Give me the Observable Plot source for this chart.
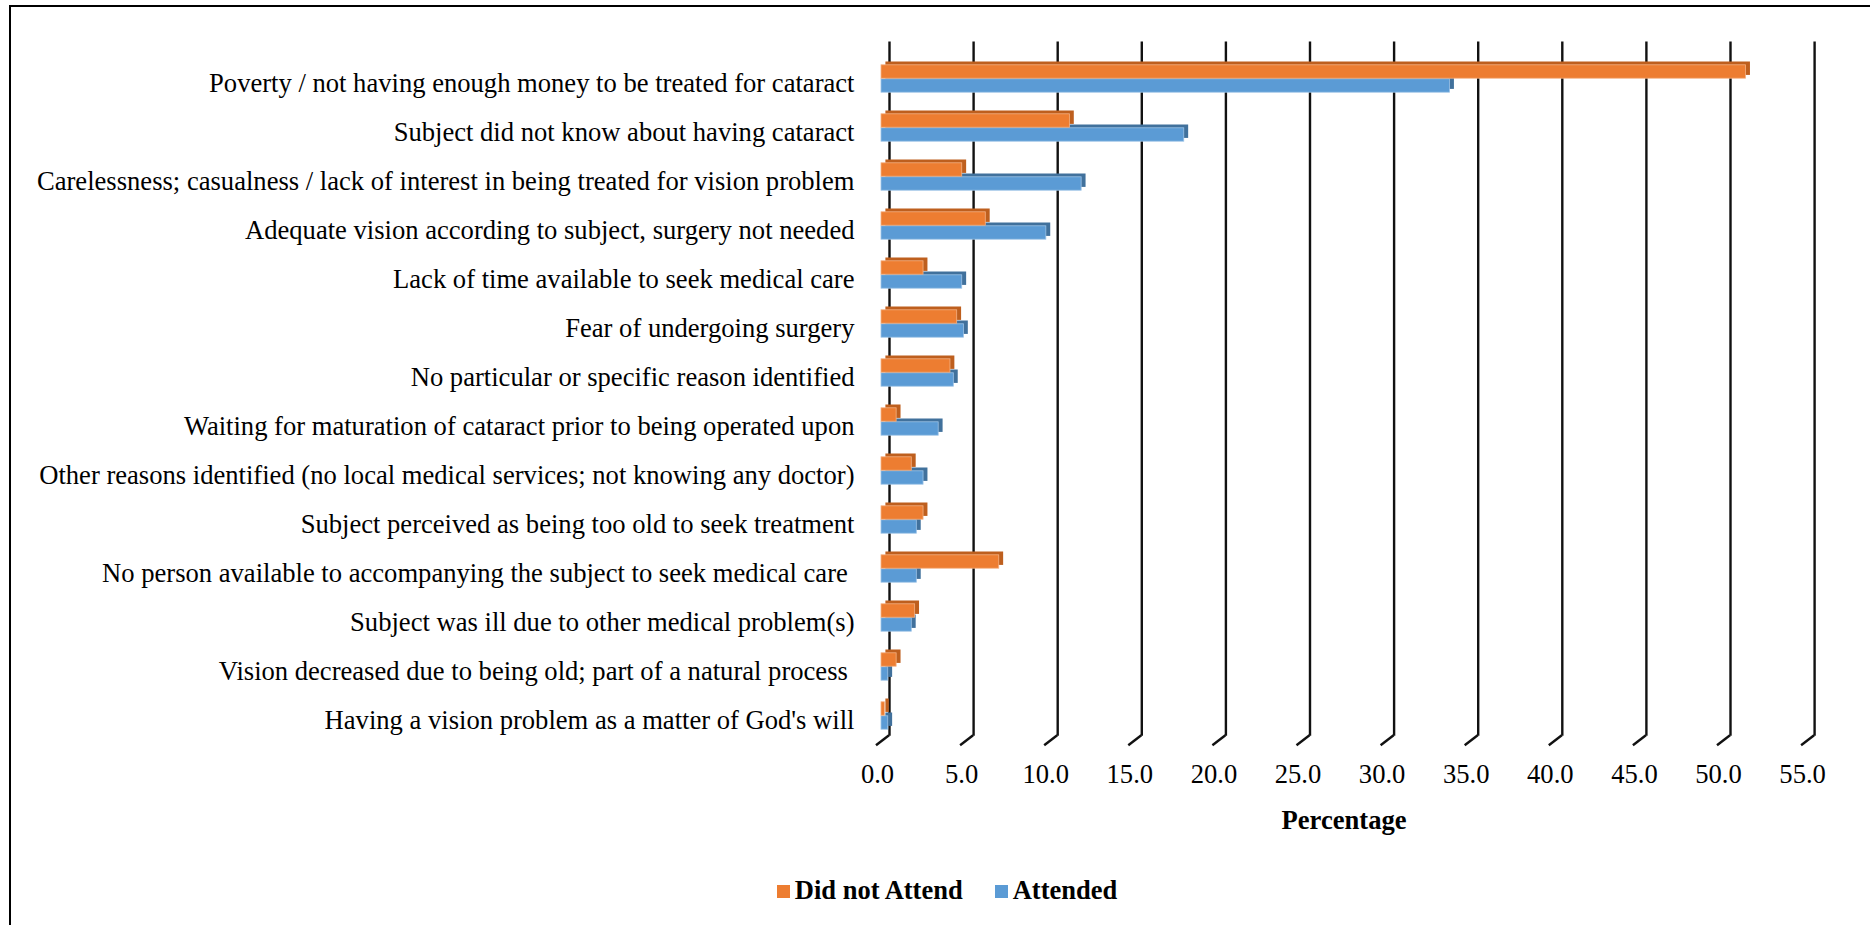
<!DOCTYPE html>
<html>
<head>
<meta charset="utf-8">
<script src="https://cdn.jsdelivr.net/npm/d3@7"></script>
<script src="https://cdn.jsdelivr.net/npm/@observablehq/plot@0.6"></script>
<style>
  html, body { margin: 0; padding: 0; background: #fff; overflow: hidden; }
  #frame { position: absolute; left: 9px; top: 4.5px; width: 3000px; height: 3000px;
           border-top: 2.5px solid #000; border-left: 2.5px solid #000; pointer-events: none; }
  #chart { position: absolute; left: 0; top: 0; }
  #legend { position: absolute; left: 0; top: 874px; width: 1870px; display: flex; justify-content: center;
            font-family: "Liberation Serif", "Times New Roman", serif; font-weight: bold; font-size: 26.5px;
            line-height: 32px; padding-left: 24px; box-sizing: border-box; }
  .item { display: flex; align-items: center; margin: 0 16px; }
  .sw { width: 13px; height: 13px; margin-right: 5px; margin-top: 2px; }
</style>
</head>
<body>
<div id="chart"></div>
<div id="legend"></div>
<div id="frame"></div>
<script>
const categories = [
  "Poverty / not having enough money to be treated for cataract",
  "Subject did not know about having cataract",
  "Carelessness; casualness / lack of interest in being treated for vision problem",
  "Adequate vision according to subject, surgery not needed",
  "Lack of time available to seek medical care",
  "Fear of undergoing surgery",
  "No particular or specific reason identified",
  "Waiting for maturation of cataract prior to being operated upon",
  "Other reasons identified (no local medical services; not knowing any doctor)",
  "Subject perceived as being too old to seek treatment",
  "No person available to accompanying the subject to seek medical care\u00a0",
  "Subject was ill due to other medical problem(s)",
  "Vision decreased due to being old; part of a natural process\u00a0",
  "Having a vision problem as a matter of God's will"
];
const didNotAttend = [51.4, 11.2, 4.8, 6.2, 2.5, 4.5, 4.1, 0.9, 1.8, 2.5, 7.0, 2.0, 0.9, 0.2];
const attended     = [33.8, 18.0, 11.9, 9.8, 4.8, 4.9, 4.3, 3.4, 2.5, 2.1, 2.1, 1.8, 0.4, 0.4];
const xTicks = [0, 5, 10, 15, 20, 25, 30, 35, 40, 45, 50, 55];
const xLabel = ["Percentage"];
const seriesNames = ["Did not Attend", "Attended"];
const seriesColors = ["#ED7D31", "#5B9BD5"];
const seriesDark = ["#BE5F1E", "#41719C"];
const seriesEdge = ["#F4B183", "#9DC3E6"];

const table = categories.map((c, i) => ({cat: c, dna: didNotAttend[i], att: attended[i]}));

const half = 49.59 / 2;
const barH = 14;
const topInset = {insetTop: half - barH, insetBottom: half};
const botInset = {insetTop: half, insetBottom: half - barH};

function floorTicks(index, scales, values, dims) {
  const g = d3.create("svg:g").attr("stroke", "#111").attr("stroke-width", 2.4).attr("fill", "none");
  const yb = dims.height - dims.marginBottom;
  for (const v of xTicks) {
    const x = scales.x(v);
    g.append("line").attr("x1", x + 8).attr("y1", yb - 8.5).attr("x2", x - 5).attr("y2", yb + 1.5);
  }
  return g.node();
}

const chart = Plot.plot({
  width: 1870,
  height: 860,
  marginLeft: 881,
  marginRight: 63.9,
  marginTop: 49.5,
  marginBottom: 116.2,
  style: {fontFamily: "'Liberation Serif', 'Times New Roman', serif", fontSize: "26.6px", color: "#000", background: "transparent", overflow: "visible"},
  x: {domain: [0, 55]},
  y: {domain: categories, padding: 0},
  marks: [
    Plot.ruleX(xTicks, {dx: 8, dy: -8, stroke: "#111", strokeWidth: 2.4}),
    floorTicks,
    // Attended (lower) bar: depth faces then front
    Plot.barX(table, {x: "att", y: "cat", fill: seriesDark[1], dx: 4.4, dy: -3.3, ...botInset}),
    Plot.barX(table, {x: "att", y: "cat", fill: seriesColors[1], stroke: seriesEdge[1], strokeWidth: 0.8, ...botInset}),
    // Did not attend (upper) bar
    Plot.barX(table, {x: "dna", y: "cat", fill: seriesDark[0], dx: 4.4, dy: -3.3, ...topInset}),
    Plot.barX(table, {x: "dna", y: "cat", fill: seriesColors[0], stroke: seriesEdge[0], strokeWidth: 0.8, ...topInset}),
    Plot.axisY({tickSize: 0, tickPadding: 27, dy: 4, label: null}),
    Plot.axisX({ticks: xTicks, tickSize: 0, tickPadding: 20, dx: -4, tickFormat: d => d.toFixed(1), label: null}),
    Plot.text(xLabel, {text: d => d, frameAnchor: "bottom", dy: 85, fontWeight: "bold"})
  ]
});
document.getElementById("chart").appendChild(chart);

const legend = document.getElementById("legend");
seriesNames.forEach((n, i) => {
  const it = document.createElement("div");
  it.className = "item";
  const sw = document.createElement("div");
  sw.className = "sw";
  sw.style.background = seriesColors[i];
  const t = document.createElement("span");
  t.textContent = n;
  it.appendChild(sw); it.appendChild(t);
  legend.appendChild(it);
});
</script>
</body>
</html>
